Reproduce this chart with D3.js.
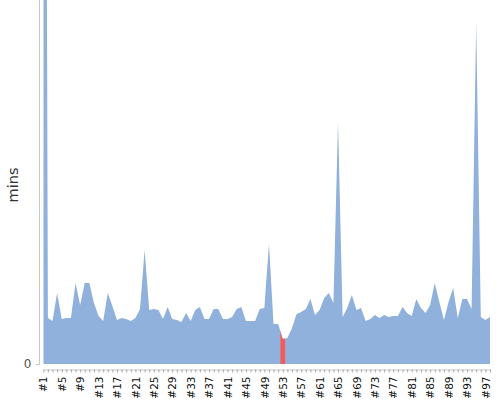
<!DOCTYPE html>
<html>
<head>
<meta charset="utf-8">
<script src="https://cdn.jsdelivr.net/npm/d3@7"></script>
<style>
  body { margin: 0; background: #fff; }
  svg { display: block; font-family: "DejaVu Sans", sans-serif; }
</style>
</head>
<body>
<div id="chart"></div>
<script>
"use strict";

// run numbers #1..#98, minutes per run
var runs = d3.range(1, 99);
var mins = [
  520, 15.3, 14.3, 23.7, 15, 15.3, 15.3, 27, 19.7, 27,
  27, 20.3, 16, 14.3, 23.7, 19.3, 14.7, 15.3, 15, 14.3,
  15.3, 18.3, 38, 18, 18.3, 18, 15, 19, 15, 14.7,
  14, 17, 14.3, 18, 19, 15, 15, 18.3, 18.3, 15,
  15, 15.7, 18.3, 19, 14.3, 14.3, 14.3, 18.3, 18.7, 40,
  13.3, 13.3, 8.3, 8.7, 12, 16.7, 17.3, 18.3, 21.7, 16.3,
  18, 22, 23.7, 20.3, 80.7, 15.7, 18.7, 23, 18, 18.7,
  14.3, 15, 16.3, 15.3, 16.3, 15.7, 16, 16, 19, 17,
  16, 21.7, 18.7, 17, 19.7, 27, 20.7, 14.7, 20.7, 25.3,
  15.3, 21.7, 21.7, 18.3, 114, 15.7, 14.7, 15.7
];
var highlightRun = 53;
var labelRuns = runs.filter(function(d){ return (d - 1) % 4 === 0; });
var yTicks = [0];

var width = 500, height = 400;
var margin = { top: 0, left: 43.3, right: 10, bottom: 36 };

var svg = d3.select("#chart").append("svg")
  .attr("width", width)
  .attr("height", height);

var x = d3.scaleLinear()
  .domain([1, 98])
  .range([margin.left, width - margin.right]);

var y = d3.scaleLinear()
  .domain([0, 121.3])
  .range([height - margin.bottom, margin.top]);

var data = runs.map(function(r, i){ return { run: r, v: mins[i] }; });

var area = d3.area()
  .x(function(d){ return x(d.run); })
  .y0(y(0))
  .y1(function(d){ return y(d.v); });

// clip for plot area (first run goes off the top)
var defs = svg.append("defs");
defs.append("clipPath").attr("id", "plotclip")
  .append("rect")
  .attr("x", margin.left).attr("y", 0)
  .attr("width", width - margin.left - margin.right)
  .attr("height", y(0));

var step = x(2) - x(1);
defs.append("clipPath").attr("id", "hiclip")
  .append("rect")
  .attr("x", x(highlightRun) - step / 2).attr("y", 0)
  .attr("width", step)
  .attr("height", y(0));

var g = svg.append("g").attr("clip-path", "url(#plotclip)");

g.append("path")
  .datum(data)
  .attr("d", area)
  .attr("fill", "#8fb1db");

g.append("g").attr("clip-path", "url(#hiclip)")
  .append("path")
  .datum(data)
  .attr("d", area)
  .attr("fill", "#f55a5a");

// y axis
var yAxis = svg.append("g")
  .attr("transform", "translate(39.5,0)")
  .call(d3.axisLeft(y).tickValues(yTicks).tickSize(4).tickPadding(4));
yAxis.select(".domain")
  .attr("d", "M0,0V" + (y(0) + 0.5))
  .attr("stroke", "#c8c8c8");
yAxis.selectAll(".tick line").attr("stroke", "#c8c8c8");
yAxis.selectAll(".tick text")
  .attr("fill", "#555")
  .style("font-size", "12px")
  .style("font-family", "DejaVu Sans, sans-serif");

// x axis
var xAxis = svg.append("g")
  .attr("transform", "translate(0,369.5)")
  .call(d3.axisBottom(x).tickValues(runs).tickSize(3).tickSizeOuter(0)
    .tickFormat(function(d){ return labelRuns.indexOf(d) >= 0 ? "#" + d : ""; }));
xAxis.select(".domain").attr("stroke", "#c8c8c8");
xAxis.selectAll(".tick line").attr("stroke", "#aaa");
xAxis.selectAll(".tick text")
  .attr("fill", "#111")
  .style("font-size", "10.5px")
  .style("font-family", "DejaVu Sans, sans-serif")
  .attr("text-anchor", "end")
  .attr("dy", "0.35em")
  .attr("transform", "translate(0,7) rotate(-90)")
  .attr("x", 0)
  .attr("y", 0);

// y label
svg.append("text")
  .attr("transform", "translate(17.5,185) rotate(-90)")
  .attr("text-anchor", "middle")
  .attr("fill", "#333")
  .style("font-size", "14.5px")
  .text("mins");
</script>
</body>
</html>
